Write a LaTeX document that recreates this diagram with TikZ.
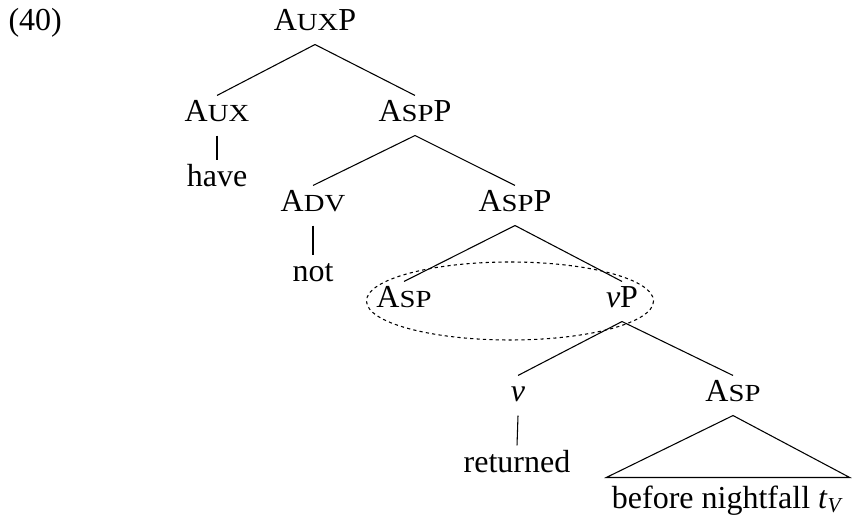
\documentclass[tikz,border=0pt]{standalone}
\usepackage{fontspec}
\setmainfont{Liberation Serif}
\usepackage{graphicx}
\usepackage{tikz}
\newcommand{\smallcap}[1]{\scalebox{1.17}[1]{\fontsize{9.2pt}{10pt}\selectfont #1}}

\begin{document}
\begin{tikzpicture}
[x=0.375pt,y=-0.375pt,
  labelDecorate/.style={inner sep=0pt,anchor=base,text height=9.75pt,text depth=4.875pt},%
  leafDecorate/.style={inner xsep=1.9pt,inner ysep=0pt,anchor=base,text height=11.25pt,text depth=4.875pt},%
  branchDecorate/.style={thin},%
  focusDecorate/.style={thin,dash pattern=on 1.2pt off 1.2pt}]
\useasboundingbox (0,0) rectangle (854,518);
\fontsize{12pt}{14pt}\selectfont
%% example number
\node (ex) at (8,31) [anchor=base west,inner sep=0pt] {(40)};
%% nodes or labels
\foreach \nodename/\x/\y/\txt in {auxp/315/31/{A\smallcap{UX}P},
  aux/217/122/{A\smallcap{UX}}, aspp/415/122/{A\smallcap{SP}P},
  have/217/187/{have}, adv/313/212/{A\smallcap{DV}}, aspp2/515/212/{A\smallcap{SP}P},
  neg/313/282/{not}, asp/404/308/{A\smallcap{SP}}, vp/622/308/{\textit{v}P},
  v/518/402/{\textit{v}}, asp2/733/402/{A\smallcap{SP}}, ret/517/472/{returned}}
{
  \node (\nodename) at (\x,\y) [labelDecorate] {\txt};
}
\node (leaf) at (728,508) [leafDecorate] {before nightfall \textit{t}\textsubscript{\textit{V}}};
%% branches
\path
\foreach \startnode/\endnode in {auxp/aux, auxp/aspp, aux/have, aspp/adv, aspp/aspp2,
  adv/neg, aspp2/asp, aspp2/vp, vp/v, vp/asp2, v/ret}
{
  (\startnode.south) edge[branchDecorate] (\endnode.north)
};
\draw[branchDecorate] (asp2.south) -- (leaf.north west) -- (leaf.north east) -- cycle;
%% dotted circle round the head
\draw[focusDecorate] (510,301) ellipse [x radius=143.5, y radius=39];
\end{tikzpicture}
\end{document}
